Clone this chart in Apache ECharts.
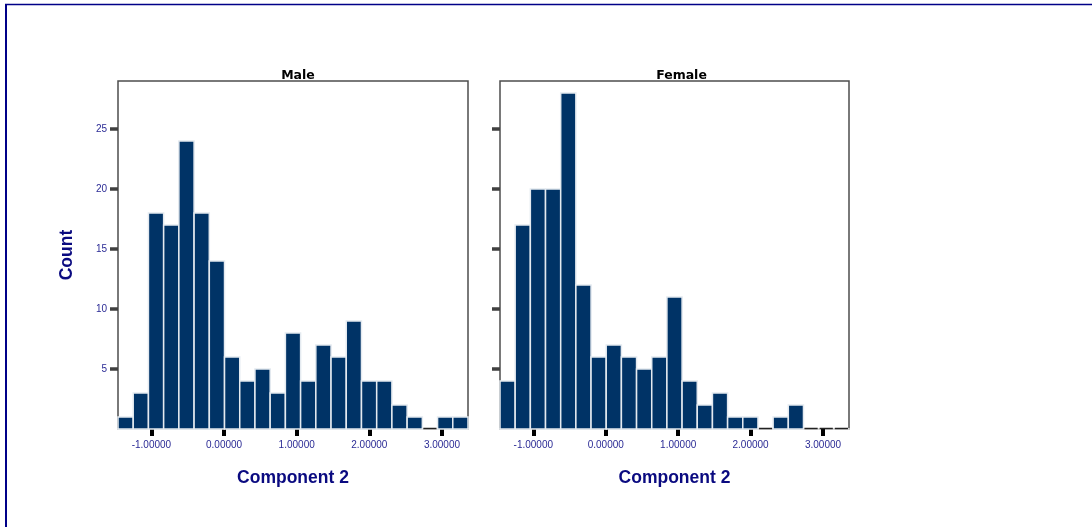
<!DOCTYPE html>
<html>
<head>
<meta charset="utf-8">
<script src="https://cdn.jsdelivr.net/npm/echarts@6/dist/echarts.min.js"></script>
<style>html,body{margin:0;padding:0;background:#fff}#c{width:1092px;height:527px}</style>
</head>
<body>
<div id="c"></div>
<script>
// Histogram of Component 2, by gender
const panelTitles = ['Male', 'Female'];
const binStart = -1.46;
const binWidth = 0.2095;
const maleCounts   = [1, 3, 18, 17, 24, 18, 14, 6, 4, 5, 3, 8, 4, 7, 6, 9, 4, 4, 2, 1, 0, 1, 1];
const femaleCounts = [4, 17, 20, 20, 28, 12, 6, 7, 6, 5, 6, 11, 4, 2, 3, 1, 1, 0, 1, 2, 0, 0, 0];
const xTicks = [-1, 0, 1, 2, 3];
const yTicks = [5, 10, 15, 20, 25];
const yMax = 29;
const xName = 'Component 2';
const yName = 'Count';

function bins(counts) {
  return counts.map((c, i) => [binStart + i * binWidth, binStart + (i + 1) * binWidth, c]);
}
const xMin = binStart;
const xMax = binStart + maleCounts.length * binWidth;

const chart = echarts.init(document.getElementById('c'), null, {renderer: 'canvas'});

const grids = [
  {left: 118, top: 81, width: 350, height: 348},
  {left: 500, top: 81, width: 349, height: 348}
];

function renderBar(params, api) {
  const x0 = api.value(0), x1 = api.value(1), c = api.value(2);
  const p0 = api.coord([x0, c]);
  const p1 = api.coord([x1, 0]);
  if (c === 0) {
    return {type: 'line', shape: {x1: p0[0] + 1, y1: p1[1] - 0.5, x2: p1[0] - 1, y2: p1[1] - 0.5},
      style: {stroke: '#222', lineWidth: 1.5}};
  }
  return {type: 'rect', shape: {x: p0[0], y: p0[1], width: p1[0] - p0[0], height: p1[1] - p0[1]},
    style: {fill: '#003366', stroke: '#e4eaf0', lineWidth: 1.5}};
}

const xAxes = grids.map((g, i) => ({
  type: 'value', gridIndex: i, min: xMin, max: xMax,
  name: xName, nameLocation: 'middle', nameGap: 40,
  nameTextStyle: {color: '#0a0a80', fontWeight: 'bold', fontSize: 17.5, fontFamily: 'Liberation Sans'},
  splitLine: {show: false},
  axisLine: {show: true, onZero: false, lineStyle: {color: '#d6d6d6', width: 2}},
  axisTick: {show: true, length: 7, customValues: xTicks, lineStyle: {color: '#000', width: 4}},
  axisLabel: {show: true, customValues: xTicks, margin: 11, fontSize: 10, color: '#2b2b95',
    fontFamily: 'Liberation Sans', formatter: v => v.toFixed(5)}
}));

const yAxes = grids.map((g, i) => ({
  type: 'value', gridIndex: i, min: 0, max: yMax,
  name: i === 0 ? yName : '', nameLocation: 'middle', nameGap: 42,
  nameTextStyle: {color: '#0a0a80', fontWeight: 'bold', fontSize: 17.5, fontFamily: 'Liberation Sans'},
  splitLine: {show: false},
  axisLine: {show: false, onZero: false},
  axisTick: {show: true, length: 8, customValues: yTicks, lineStyle: {color: '#404040', width: 3.5}},
  axisLabel: {show: i === 0, customValues: yTicks, margin: 11, fontSize: 10, color: '#2b2b95',
    fontFamily: 'Liberation Sans'}
}));

chart.setOption({
  animation: false,
  backgroundColor: '#fff',
  title: panelTitles.map((t, i) => ({
    text: t, left: grids[i].left + grids[i].width / 2 + (i === 1 ? 2 : 0), top: 64, textAlign: 'center',
    textStyle: {fontSize: 12.5, fontWeight: 'bold', color: '#000', fontFamily: 'DejaVu Sans'}
  })),
  grid: grids.map(g => Object.assign({show: true, borderColor: '#4d4d4d', borderWidth: 1.5,
    backgroundColor: 'transparent', containLabel: false, outerBoundsMode: 'none'}, g)),
  xAxis: xAxes,
  yAxis: yAxes,
  series: [
    {type: 'custom', xAxisIndex: 0, yAxisIndex: 0, renderItem: renderBar, data: bins(maleCounts), encode: {x: [0, 1], y: 2}},
    {type: 'custom', xAxisIndex: 1, yAxisIndex: 1, renderItem: renderBar, data: bins(femaleCounts), encode: {x: [0, 1], y: 2}}
  ],
  graphic: [
    {type: 'line', shape: {x1: 6, y1: 4, x2: 6, y2: 527}, style: {stroke: '#000088', lineWidth: 2}},
    {type: 'line', shape: {x1: 5, y1: 4.5, x2: 1092, y2: 4.5}, style: {stroke: '#000088', lineWidth: 1.5}}
  ]
});
</script>
</body>
</html>
